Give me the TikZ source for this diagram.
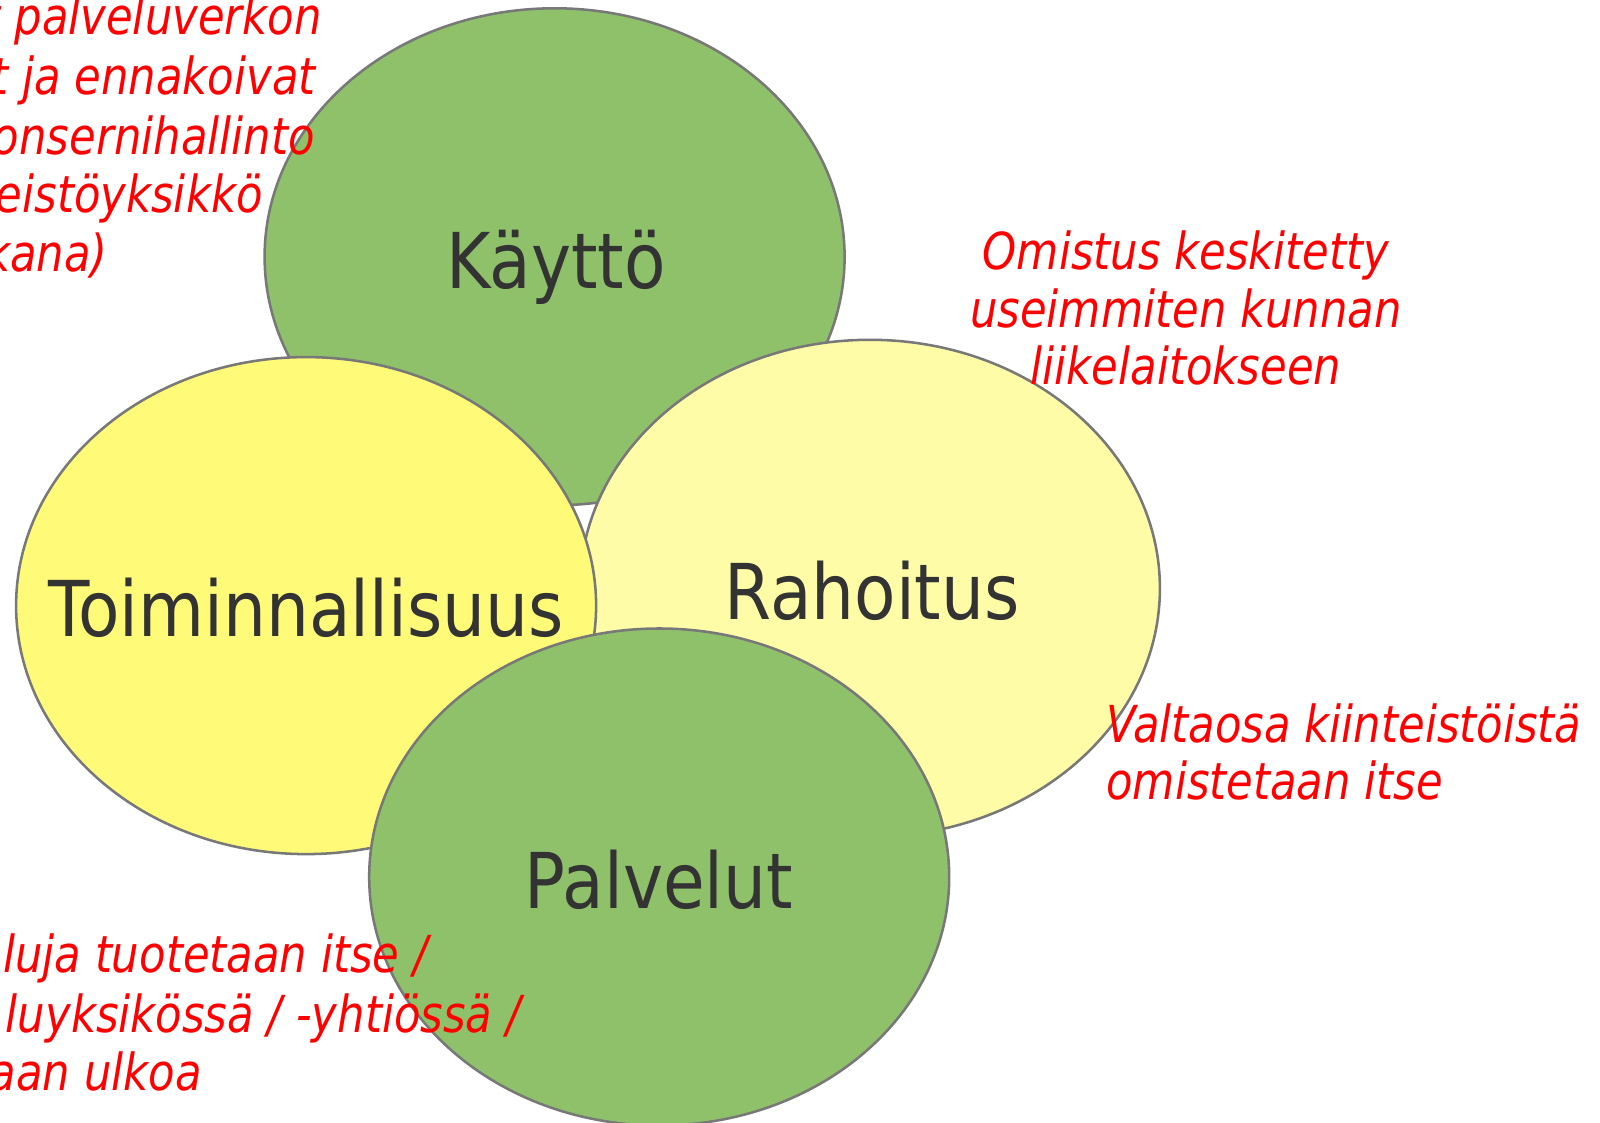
\documentclass[tikz,border=0pt]{standalone}
\usepackage{fontspec}
\setmainfont{DejaVu Sans}[FakeStretch=0.85]
\newfontfamily\labelfont{DejaVu Sans}[FakeStretch=0.88]
\usetikzlibrary{shapes.geometric}
\definecolor{bggreen}{RGB}{143,193,107}
\definecolor{bgyellow}{RGB}{255,250,120}
\definecolor{bglight}{RGB}{255,252,168}
\definecolor{edgegrey}{RGB}{120,120,120}
\definecolor{labelgrey}{RGB}{51,51,51}
\definecolor{notered}{RGB}{255,0,0}
\begin{document}
\begin{tikzpicture}[x=0.75pt,y=-0.75pt,
  bubble/.style={ellipse, draw=edgegrey, line width=1.9pt, inner sep=0pt,
    minimum width=435pt, minimum height=372.75pt},
  biglabel/.style={anchor=base, inner sep=0pt, text=labelgrey,
    font=\labelfont\fontsize{57.75}{60}\selectfont},
  note/.style={inner sep=0pt, text=notered,
    font=\fontsize{38.25}{44}\selectfont\itshape}]
\clip (0,0) rectangle (1600,1123);
\fill[white] (0,0) rectangle (1600,1123);
% ellipses
\node[bubble, fill=bggreen]  (kaytto) at (554.6,256.8) {};
\node[bubble, fill=bglight]  (rahoitus) at (869.9,588.3) {};
\node[bubble, fill=bgyellow] (toiminta) at (306.1,605.6) {};
\node[bubble, fill=bggreen]  (palvelut) at (659.2,877.0) {};
% labels
\node[biglabel] (lk) at (556,288.5) {Käyttö};
\node[biglabel] (lt) at (306,636) {Toiminnallisuus};
\node[biglabel] (lr) at (872,619) {Rahoitus};
\node[biglabel] (lp) at (659,908) {Palvelut};
% top-left note (cut by the edge)
\node[note, anchor=base east] (n11) at (322,35) {t palveluverkon};
\node[note, anchor=base east] (n12) at (316,95) {t ja ennakoivat};
\node[note, anchor=base east] (n13) at (315,155) {onsernihallinto};
\node[note, anchor=base east] (n14) at (263,213) {teistöyksikkö};
\node[note, anchor=base east] (n15) at (108,272) {kana)};
% top-right note
\node[note, anchor=base] (n21) at (1186,270) {Omistus keskitetty};
\node[note, anchor=base] (n22) at (1186,328) {useimmiten kunnan};
\node[note, anchor=base] (n23) at (1186,385) {liikelaitokseen};
% right note
\node[note, anchor=base west] (n31) at (1106,742) {Valtaosa kiinteistöistä};
\node[note, anchor=base west] (n32) at (1106,799) {omistetaan itse};
% bottom-left note
\node[note, anchor=base east] (n41) at (428,972) {luja tuotetaan itse /};
\node[note, anchor=base east] (n42) at (521,1032) {luyksikössä / -yhtiössä /};
\node[note, anchor=base east] (n43) at (202,1090) {aan ulkoa};
\end{tikzpicture}
\end{document}
